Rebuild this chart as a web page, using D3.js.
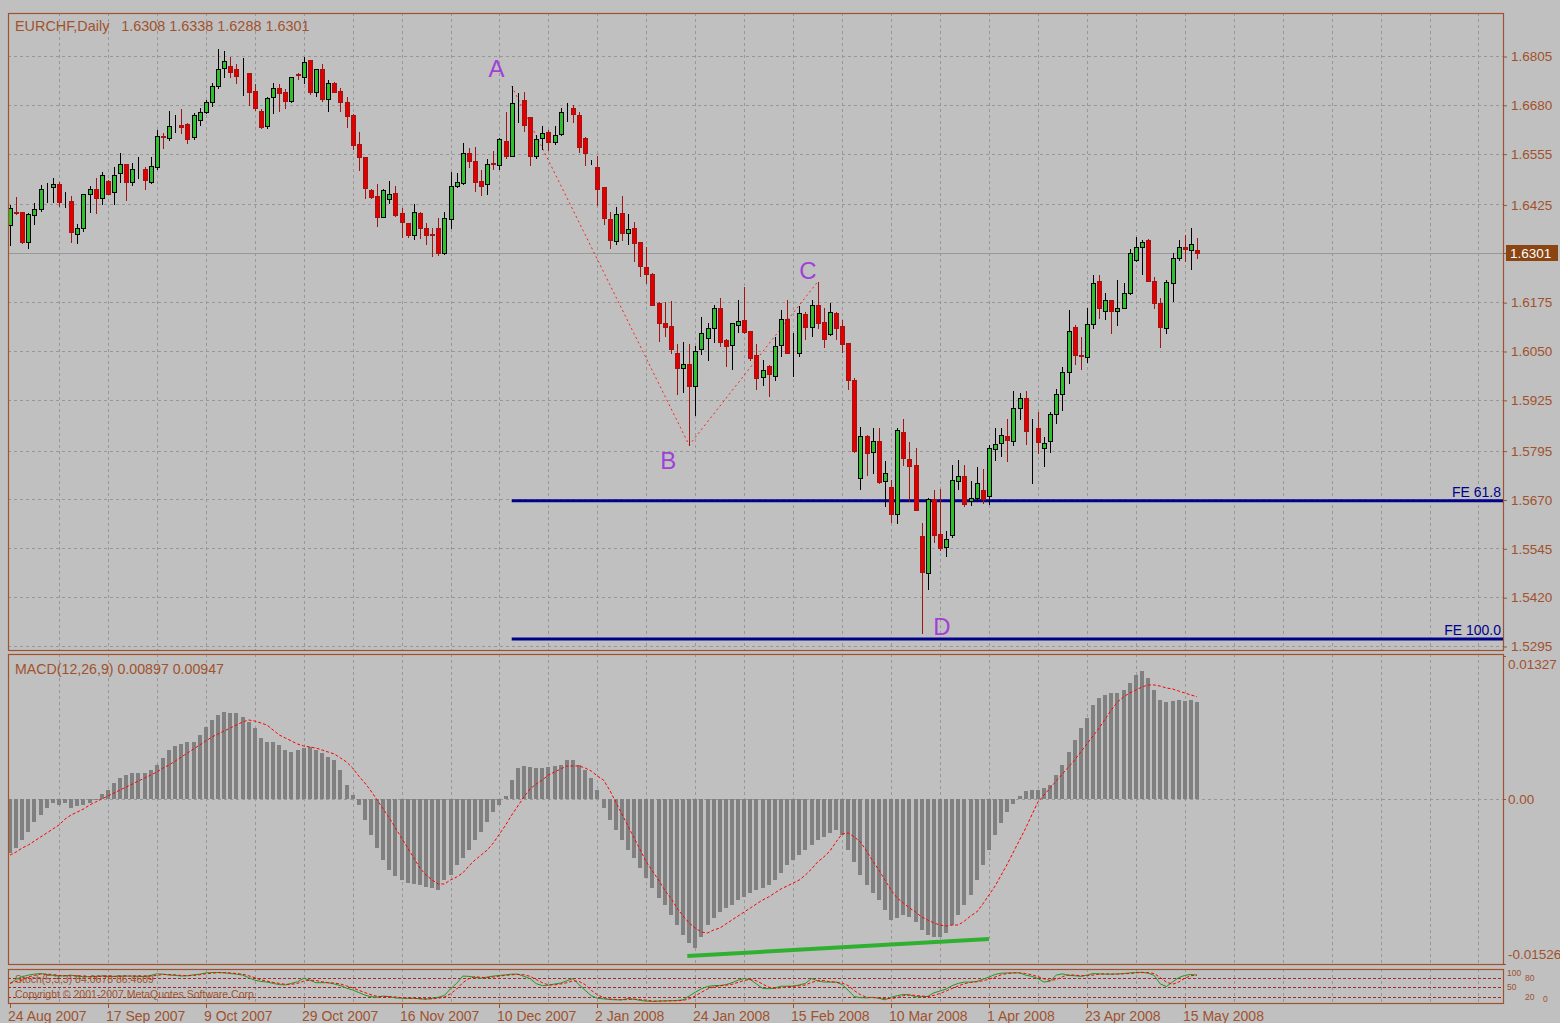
<!DOCTYPE html>
<html><head><meta charset="utf-8">
<script src="https://cdn.jsdelivr.net/npm/d3@7"></script>
<style>
html,body{margin:0;padding:0;background:#c0c0c0;}
svg{display:block;font-family:"Liberation Sans",Arial,sans-serif;}
</style></head><body>
<svg id="chart" width="1560" height="1023"></svg>
<script>
// ---------------- DATA ----------------
const symbolTitle = "EURCHF,Daily";
const lastOHLC = [1.6308, 1.6338, 1.6288, 1.6301];
const opens = [
1.6373,1.6407,1.6407,1.6328,1.6398,1.6413,1.6460,1.6469,1.6477,1.6431,
1.6435,1.6349,1.6366,1.6452,1.6465,1.6441,1.6485,1.6458,1.6505,1.6528,
1.6483,1.6515,1.6517,1.6483,1.6522,1.6601,1.6594,1.6624,1.6629,1.6631,
1.6597,1.6641,1.6661,1.6686,1.6727,1.6774,1.6779,1.6771,1.6758,1.6761,
1.6716,1.6665,1.6627,1.6699,1.6724,1.6712,1.6690,1.6758,1.6750,1.6795,
1.6714,1.6771,1.6695,1.6737,1.6716,1.6686,1.6654,1.6579,1.6547,1.6462,
1.6447,1.6394,1.6438,1.6454,1.6404,1.6377,1.6347,1.6404,1.6364,1.6350,
1.6364,1.6302,1.6387,1.6473,1.6479,1.6556,1.6536,1.6486,1.6477,1.6532,
1.6526,1.6587,1.6550,1.6691,1.6692,1.6650,1.6549,1.6594,1.6611,1.6586,
1.6605,1.6673,1.6673,1.6654,1.6596,1.6534,1.6520,1.6470,1.6388,1.6331,
1.6404,1.6351,1.6364,1.6328,1.6266,1.6247,1.6172,1.6121,1.6114,1.6046,
1.6007,1.6018,1.5960,1.6054,1.6082,1.6109,1.6161,1.6078,1.6065,1.6116,
1.6129,1.6102,1.6039,1.5984,1.6011,1.5986,1.6065,1.6133,1.6044,1.6046,
1.6144,1.6112,1.6169,1.6125,1.6093,1.6146,1.6114,1.6071,1.5977,1.5724,
1.5833,1.5792,1.5820,1.5717,1.5702,1.5632,1.5843,1.5773,1.5758,1.5577,
1.5482,1.5670,1.5581,1.5549,1.5579,1.5717,1.5730,1.5666,1.5674,1.5694,
1.5679,1.5799,1.5815,1.5832,1.5819,1.5905,1.5929,1.5854,1.5854,1.5802,
1.5819,1.5890,1.5940,1.5995,1.6112,1.6039,1.6035,1.6120,1.6230,1.6152,
1.6180,1.6152,1.6161,1.6199,1.6284,1.6317,1.6334,1.6230,1.6172,1.6108,
1.6223,1.6289,1.6317,1.6308,1.6308];
const highs = [
1.6424,1.6443,1.6407,1.6404,1.6430,1.6475,1.6481,1.6494,1.6483,1.6458,
1.6447,1.6374,1.6453,1.6473,1.6494,1.6509,1.6488,1.6522,1.6556,1.6528,
1.6530,1.6547,1.6522,1.6546,1.6616,1.6607,1.6663,1.6654,1.6669,1.6633,
1.6658,1.6671,1.6692,1.6735,1.6822,1.6818,1.6803,1.6784,1.6799,1.6761,
1.6733,1.6669,1.6701,1.6737,1.6733,1.6720,1.6752,1.6762,1.6802,1.6795,
1.6773,1.6784,1.6744,1.6739,1.6724,1.6701,1.6656,1.6610,1.6547,1.6465,
1.6477,1.6465,1.6486,1.6473,1.6415,1.6378,1.6426,1.6407,1.6377,1.6364,
1.6391,1.6407,1.6507,1.6505,1.6583,1.6569,1.6571,1.6513,1.6541,1.6563,
1.6594,1.6662,1.6728,1.6711,1.6712,1.6650,1.6603,1.6626,1.6615,1.6626,
1.6673,1.6684,1.6679,1.6661,1.6598,1.6540,1.6549,1.6470,1.6406,1.6419,
1.6446,1.6400,1.6381,1.6330,1.6317,1.6249,1.6176,1.6176,1.6178,1.6069,
1.6074,1.6069,1.6063,1.6138,1.6122,1.6169,1.6185,1.6080,1.6122,1.6180,
1.6213,1.6102,1.6068,1.6027,1.6014,1.6086,1.6156,1.6180,1.6095,1.6165,
1.6150,1.6180,1.6227,1.6161,1.6172,1.6150,1.6129,1.6071,1.5980,1.5856,
1.5836,1.5852,1.5852,1.5769,1.5721,1.5852,1.5875,1.5818,1.5801,1.5609,
1.5673,1.5694,1.5698,1.5589,1.5758,1.5772,1.5758,1.5718,1.5754,1.5749,
1.5809,1.5852,1.5852,1.5875,1.5948,1.5943,1.5948,1.5875,1.5894,1.5829,
1.5894,1.5952,1.6010,1.6156,1.6116,1.6086,1.6161,1.6244,1.6244,1.6199,
1.6180,1.6231,1.6223,1.6312,1.6341,1.6334,1.6336,1.6240,1.6185,1.6231,
1.6300,1.6334,1.6347,1.6364,1.6338];
const lows = [
1.6321,1.6401,1.6327,1.6313,1.6375,1.6409,1.6432,1.6432,1.6422,1.6418,
1.6330,1.6327,1.6358,1.6405,1.6402,1.6426,1.6452,1.6425,1.6483,1.6436,
1.6475,1.6494,1.6465,1.6481,1.6517,1.6569,1.6590,1.6611,1.6609,1.6583,
1.6593,1.6628,1.6658,1.6678,1.6722,1.6752,1.6750,1.6735,1.6705,1.6680,
1.6667,1.6622,1.6622,1.6660,1.6663,1.6671,1.6686,1.6746,1.6737,1.6709,
1.6703,1.6690,1.6664,1.6712,1.6663,1.6624,1.6566,1.6512,1.6441,1.6441,
1.6371,1.6392,1.6428,1.6396,1.6343,1.6343,1.6336,1.6338,1.6324,1.6293,
1.6296,1.6298,1.6366,1.6471,1.6477,1.6522,1.6460,1.6449,1.6452,1.6517,
1.6515,1.6543,1.6549,1.6635,1.6613,1.6526,1.6545,1.6568,1.6564,1.6580,
1.6603,1.6639,1.6635,1.6560,1.6526,1.6528,1.6423,1.6374,1.6314,1.6324,
1.6334,1.6324,1.6280,1.6242,1.6223,1.6167,1.6076,1.6088,1.6046,1.5941,
1.5944,1.5809,1.5886,1.6042,1.6027,1.6074,1.6063,1.6011,1.6003,1.6099,
1.6095,1.6028,1.5954,1.5963,1.5935,1.5975,1.6037,1.6044,1.5986,1.6037,
1.6080,1.6088,1.6110,1.6059,1.6091,1.6080,1.6048,1.5954,1.5792,1.5696,
1.5732,1.5739,1.5713,1.5653,1.5613,1.5610,1.5758,1.5667,1.5643,1.5329,
1.5442,1.5562,1.5540,1.5525,1.5574,1.5698,1.5654,1.5657,1.5668,1.5660,
1.5658,1.5772,1.5781,1.5769,1.5809,1.5875,1.5811,1.5713,1.5789,1.5755,
1.5792,1.5866,1.5900,1.5967,1.6016,1.6005,1.6022,1.6109,1.6135,1.6132,
1.6095,1.6116,1.6159,1.6197,1.6281,1.6248,1.6230,1.6161,1.6061,1.6097,
1.6179,1.6284,1.6281,1.6260,1.6288];
const closes = [
1.6415,1.6402,1.6330,1.6401,1.6413,1.6465,1.6460,1.6477,1.6432,1.6431,
1.6355,1.6366,1.6451,1.6465,1.6441,1.6500,1.6453,1.6500,1.6528,1.6483,
1.6516,1.6515,1.6488,1.6524,1.6601,1.6597,1.6626,1.6624,1.6624,1.6592,
1.6654,1.6661,1.6688,1.6727,1.6773,1.6791,1.6765,1.6755,1.6758,1.6714,
1.6671,1.6624,1.6697,1.6724,1.6711,1.6691,1.6750,1.6756,1.6789,1.6714,
1.6771,1.6694,1.6737,1.6714,1.6688,1.6651,1.6577,1.6547,1.6468,1.6445,
1.6394,1.6462,1.6451,1.6398,1.6381,1.6347,1.6407,1.6364,1.6347,1.6347,
1.6302,1.6391,1.6473,1.6482,1.6558,1.6535,1.6483,1.6472,1.6528,1.6528,
1.6592,1.6549,1.6684,1.6691,1.6628,1.6549,1.6592,1.6607,1.6586,1.6603,
1.6661,1.6673,1.6656,1.6573,1.6557,1.6534,1.6464,1.6391,1.6334,1.6400,
1.6353,1.6362,1.6327,1.6268,1.6246,1.6169,1.6121,1.6112,1.6054,1.6007,
1.6018,1.5960,1.6050,1.6097,1.6109,1.6161,1.6074,1.6063,1.6121,1.6127,
1.6099,1.6031,1.5982,1.6001,1.5991,1.6062,1.6133,1.6045,1.6044,1.6146,
1.6112,1.6167,1.6121,1.6080,1.6149,1.6108,1.6069,1.5975,1.5795,1.5832,
1.5790,1.5819,1.5715,1.5738,1.5632,1.5847,1.5775,1.5756,1.5643,1.5485,
1.5671,1.5580,1.5547,1.5570,1.5721,1.5730,1.5658,1.5674,1.5713,1.5672,
1.5801,1.5812,1.5835,1.5822,1.5905,1.5929,1.5846,1.5854,1.5818,1.5815,
1.5890,1.5941,1.5995,1.6101,1.6039,1.6037,1.6120,1.6225,1.6161,1.6180,
1.6152,1.6161,1.6199,1.6301,1.6317,1.6328,1.6230,1.6174,1.6112,1.6227,
1.6289,1.6315,1.6312,1.6324,1.6301];

const macdHist = [
-0.00500,-0.00454,-0.00380,-0.00306,-0.00213,-0.00148,-0.00083,-0.00037,-0.00056,-0.00037,
-0.00083,-0.00065,-0.00056,-0.00037,-0.00009,0.00046,0.00083,0.00148,0.00194,0.00222,
0.00241,0.00241,0.00241,0.00269,0.00315,0.00380,0.00454,0.00491,0.00509,0.00528,
0.00528,0.00593,0.00667,0.00732,0.00778,0.00806,0.00796,0.00796,0.00759,0.00713,
0.00657,0.00565,0.00528,0.00528,0.00500,0.00454,0.00435,0.00454,0.00472,0.00482,
0.00454,0.00426,0.00389,0.00361,0.00269,0.00130,0.00037,-0.00056,-0.00194,-0.00333,
-0.00454,-0.00565,-0.00657,-0.00713,-0.00750,-0.00778,-0.00787,-0.00796,-0.00815,-0.00824,
-0.00843,-0.00750,-0.00704,-0.00611,-0.00546,-0.00472,-0.00380,-0.00306,-0.00213,-0.00120,
-0.00056,0.00028,0.00176,0.00287,0.00306,0.00296,0.00287,0.00287,0.00296,0.00306,
0.00315,0.00361,0.00361,0.00315,0.00269,0.00194,0.00083,-0.00083,-0.00194,-0.00287,
-0.00380,-0.00472,-0.00546,-0.00639,-0.00732,-0.00824,-0.00917,-0.00982,-0.01074,-0.01167,
-0.01259,-0.01333,-0.01380,-0.01278,-0.01167,-0.01102,-0.01046,-0.01009,-0.00982,-0.00935,
-0.00907,-0.00870,-0.00843,-0.00824,-0.00796,-0.00750,-0.00685,-0.00611,-0.00565,-0.00519,
-0.00472,-0.00426,-0.00380,-0.00352,-0.00315,-0.00287,-0.00333,-0.00472,-0.00583,-0.00704,
-0.00796,-0.00870,-0.00935,-0.01028,-0.01120,-0.01102,-0.01074,-0.01093,-0.01139,-0.01213,
-0.01259,-0.01278,-0.01278,-0.01241,-0.01167,-0.01074,-0.00982,-0.00889,-0.00750,-0.00611,
-0.00472,-0.00333,-0.00222,-0.00120,-0.00046,0.00028,0.00074,0.00083,0.00083,0.00102,
0.00130,0.00222,0.00315,0.00435,0.00546,0.00657,0.00750,0.00870,0.00935,0.00963,
0.00982,0.00982,0.01009,0.01074,0.01148,0.01185,0.01120,0.01009,0.00917,0.00898,
0.00907,0.00917,0.00907,0.00917,0.00897];
const macdSignal = [
-0.00519,-0.00491,-0.00454,-0.00426,-0.00389,-0.00352,-0.00315,-0.00278,-0.00241,-0.00185,
-0.00148,-0.00120,-0.00093,-0.00056,-0.00028,0.00000,0.00028,0.00056,0.00083,0.00111,
0.00139,0.00167,0.00194,0.00222,0.00250,0.00287,0.00315,0.00352,0.00389,0.00426,
0.00463,0.00500,0.00537,0.00574,0.00602,0.00630,0.00657,0.00685,0.00713,0.00732,
0.00722,0.00704,0.00685,0.00639,0.00593,0.00565,0.00537,0.00509,0.00491,0.00482,
0.00472,0.00454,0.00435,0.00417,0.00380,0.00343,0.00287,0.00213,0.00148,0.00074,
-0.00009,-0.00093,-0.00176,-0.00269,-0.00361,-0.00454,-0.00546,-0.00639,-0.00704,-0.00750,
-0.00787,-0.00787,-0.00750,-0.00722,-0.00685,-0.00620,-0.00565,-0.00519,-0.00472,-0.00407,
-0.00324,-0.00241,-0.00148,-0.00065,0.00019,0.00093,0.00139,0.00176,0.00222,0.00250,
0.00278,0.00306,0.00306,0.00306,0.00287,0.00259,0.00213,0.00176,0.00083,-0.00028,
-0.00139,-0.00250,-0.00361,-0.00472,-0.00583,-0.00667,-0.00750,-0.00843,-0.00917,-0.01009,
-0.01083,-0.01148,-0.01195,-0.01232,-0.01241,-0.01213,-0.01195,-0.01158,-0.01120,-0.01083,
-0.01046,-0.01009,-0.00972,-0.00935,-0.00907,-0.00870,-0.00833,-0.00806,-0.00778,-0.00750,
-0.00704,-0.00648,-0.00583,-0.00537,-0.00482,-0.00398,-0.00324,-0.00315,-0.00352,-0.00398,
-0.00482,-0.00574,-0.00657,-0.00750,-0.00843,-0.00917,-0.00963,-0.01009,-0.01046,-0.01093,
-0.01120,-0.01148,-0.01167,-0.01176,-0.01167,-0.01167,-0.01130,-0.01083,-0.01046,-0.00972,
-0.00889,-0.00806,-0.00704,-0.00602,-0.00491,-0.00380,-0.00269,-0.00148,-0.00028,0.00037,
0.00102,0.00167,0.00232,0.00296,0.00361,0.00435,0.00509,0.00583,0.00657,0.00741,
0.00824,0.00898,0.00945,0.00982,0.01009,0.01037,0.01056,0.01056,0.01046,0.01028,
0.01019,0.01000,0.00982,0.00963,0.00947];
const macdLast = ["0.00897", "0.00947"];
const macdAxis = [0.01327, 0.00, -0.01526];

const stochK = [
62,75,83,88,91,93,90,87,85,86, 88,84,83,83,84,85,83,84,85,85,
85,84,83,87,92,91,88,87,85,86, 89,91,95,96,96,95,93,91,88,80,
72,68,66,62,58,57,62,67,78,72, 64,64,64,60,55,47,41,33,25,20,
18,22,20,16,15,15,15,13,12,15, 18,24,45,62,85,84,81,78,82,85,
87,89,91,91,84,77,61,55,56,60, 63,70,77,58,40,23,15,13,11,10,
10,14,12,8,6,5,6,7,7,8, 10,22,34,45,52,55,55,58,64,72,
77,74,60,46,45,47,53,53,53,57, 62,77,70,66,66,66,58,40,20,17,
16,18,15,10,18,23,27,26,20,20, 21,32,38,44,55,62,66,66,68,75,
82,90,94,95,95,95,88,84,77,66, 69,88,92,87,86,84,88,93,92,91,
91,92,93,95,96,97,94,87,60,52, 66,80,87,90,88];
const stochD = [
62,68,73,82,87,91,91,90,87,86, 86,86,85,83,83,84,84,84,84,85,
85,85,84,85,87,90,90,89,87,86, 87,89,92,94,96,96,95,93,91,86,
80,73,69,65,62,59,59,62,69,72, 71,67,64,63,60,54,48,40,33,26,
21,20,20,19,17,15,15,14,13,13, 15,19,29,44,64,77,83,81,80,82,
85,87,89,90,89,84,74,64,57,57, 60,64,70,68,58,40,26,17,13,11,
10,11,12,11,9,6,6,6,7,7, 8,13,22,34,44,51,54,56,59,65,
71,74,70,60,50,46,48,51,53,54, 57,65,70,71,67,66,63,55,39,26,
18,17,16,14,14,17,23,25,24,22, 20,24,30,38,46,54,61,65,67,70,
75,82,89,93,95,95,93,89,83,76, 71,74,83,89,88,86,86,88,91,92,
91,91,92,93,95,96,96,93,80,66, 59,66,78,86,88];
const stochLevels = [80, 50, 20];
const stochAxisLabels = [100, 80, 50, 20, 0];
const stochTitle = "Stoch(5,3,3) 84.0678 86.4609";
const copyrightText = "Copyright \u00A9 2001-2007 MetaQuotes Software Corp.";

const dateTickIndex = [0,16,32,48,64,80,96,112,128,144,160,176,192];
const dateTickLabels = ["24 Aug 2007","17 Sep 2007","9 Oct 2007","29 Oct 2007","16 Nov 2007","10 Dec 2007",
  "2 Jan 2008","24 Jan 2008","15 Feb 2008","10 Mar 2008","1 Apr 2008","23 Apr 2008","15 May 2008"];
const priceTicks = [1.6805,1.6680,1.6555,1.6425,1.6175,1.6050,1.5925,1.5795,1.5670,1.5545,1.5420,1.5295];
const lastPrice = 1.6301;

const waveNames = ["A","B","C","D"];
const waveIdx = [79.5, 107.6, 130.4, 152.3];
const wavePrice = [1.6774, 1.5771, 1.6257, 1.5344];
const zigzagIdx = [82, 111, 132];
const zigzagPrice = [1.6728, 1.5809, 1.6227];
const feNames = ["FE 61.8", "FE 100.0"];
const feLevels = [1.5667, 1.5313];
const feStartIdx = 82;
const divIdx = [110.7, 160];
const divValue = [-0.01454, -0.01296];

// ---------------- LAYOUT ----------------
const W = 1560, H = 1023;
const L = 8, R = 1503;
const main = {t: 13, b: 650}, mac = {t: 654, b: 964}, sto = {t: 969, b: 1003};
const axisCol = "#a0522d", gridCol = "#979797", bg = "#c0c0c0";
const N = opens.length;

const x = d3.scaleLinear().domain([0, 194]).range([10, 1197]);
const yP = d3.scaleLinear().domain([1.5295, 1.6805]).range([646, 56]);
const yM = d3.scaleLinear().domain([-0.01526, 0.01327]).range([963.8, 655.7]);
const yS = d3.scaleLinear().domain([0, 100]).range([1003, 971.3]);
const px = i => Math.round(x(i));
const h5 = v => Math.round(v) + 0.5;

const svg = d3.select("#chart");
svg.append("rect").attr("width", W).attr("height", H).attr("fill", bg);

const defs = svg.append("defs");
[["clipMain", main], ["clipMac", mac], ["clipSto", sto]].forEach(([id, p]) => {
  defs.append("clipPath").attr("id", id).append("rect")
    .attr("x", L + 1).attr("y", p.t + 1).attr("width", R - L - 1).attr("height", p.b - p.t - 1);
});

// vertical grid in all panels
const gridIdx = d3.range(8, 245, 8);
[main, mac, sto].forEach(p => {
  svg.append("g").selectAll("line").data(gridIdx.filter(i => x(i) < R - 2)).join("line")
    .attr("x1", i => px(i) + 0.5).attr("x2", i => px(i) + 0.5)
    .attr("y1", p.t).attr("y2", p.b)
    .attr("stroke", gridCol).attr("stroke-dasharray", "3,3");
});
// horizontal grid main
svg.append("g").selectAll("line").data(priceTicks).join("line")
  .attr("x1", L).attr("x2", R).attr("y1", d => h5(yP(d))).attr("y2", d => h5(yP(d)))
  .attr("stroke", gridCol).attr("stroke-dasharray", "3,3");
// MACD zero
svg.append("line").attr("x1", L).attr("x2", R).attr("y1", h5(yM(0))).attr("y2", h5(yM(0)))
  .attr("stroke", gridCol).attr("stroke-dasharray", "3,3");
// current price line
svg.append("line").attr("x1", L).attr("x2", R).attr("y1", h5(yP(lastPrice))).attr("y2", h5(yP(lastPrice)))
  .attr("stroke", "#999999");

// ---------------- MAIN PANEL ----------------
const gMain = svg.append("g").attr("clip-path", "url(#clipMain)");
gMain.selectAll("line.fe").data(feLevels).join("line").attr("class", "fe")
  .attr("x1", x(feStartIdx)).attr("x2", R).attr("y1", d => yP(d)).attr("y2", d => yP(d))
  .attr("stroke", "#00008b").attr("stroke-width", 3);
const zz = zigzagIdx.map((d, i) => [d, zigzagPrice[i]]);
gMain.append("path").datum(zz)
  .attr("d", d3.line().x(d => x(d[0])).y(d => yP(d[1])))
  .attr("fill", "none").attr("stroke", "#ff2020").attr("stroke-width", 1).attr("stroke-dasharray", "2,3");

const candles = d3.range(N).map(i => ({i, o: opens[i], h: highs[i], l: lows[i], c: closes[i]}));
const cg = gMain.append("g").selectAll("g").data(candles).join("g");
cg.append("line")
  .attr("x1", d => px(d.i) + 0.5).attr("x2", d => px(d.i) + 0.5)
  .attr("y1", d => Math.round(yP(d.h))).attr("y2", d => Math.round(yP(d.l)) + 1)
  .attr("stroke", d => d.c >= d.o ? "#000000" : "#a01414");
cg.append("rect")
  .attr("x", d => px(d.i) - 1.5).attr("width", 4)
  .attr("y", d => h5(yP(Math.max(d.o, d.c))))
  .attr("height", d => Math.max(0, Math.round(yP(Math.min(d.o, d.c))) - Math.round(yP(Math.max(d.o, d.c)))))
  .attr("fill", d => d.c > d.o ? "#2fbf2f" : (d.c < d.o ? "#e00000" : "#000000"))
  .attr("stroke", d => d.c >= d.o ? "#000000" : "#a01414").attr("stroke-width", 1);

svg.selectAll("text.fe").data(feLevels).join("text").attr("class", "fe")
  .attr("x", R - 2).attr("y", d => yP(d) - 4)
  .attr("text-anchor", "end").attr("font-size", 14).attr("fill", "#00008b")
  .text((d, i) => feNames[i]);
svg.selectAll("text.wave").data(waveNames).join("text").attr("class", "wave")
  .attr("x", (d, i) => x(waveIdx[i])).attr("y", (d, i) => yP(wavePrice[i]))
  .attr("text-anchor", "middle").attr("dominant-baseline", "central")
  .attr("font-size", 24).attr("fill", "#a040d8").text(d => d);

svg.append("text").attr("x", 15).attr("y", 31).attr("font-size", 14.4).attr("fill", axisCol)
  .attr("xml:space", "preserve")
  .text(symbolTitle + "   " + lastOHLC.map(d => d.toFixed(4)).join(" "));

const pAxis = d3.axisRight(yP).tickValues(priceTicks).tickFormat(d3.format(".4f")).tickSize(4).tickPadding(4);
const pa = svg.append("g").attr("transform", `translate(${R},0.5)`).call(pAxis);
pa.select(".domain").remove();
pa.selectAll("line").attr("stroke", axisCol);
pa.selectAll("text").attr("fill", axisCol).attr("font-size", 13.5).attr("font-family", "Liberation Sans, Arial, sans-serif");
const ly = Math.round(yP(lastPrice));
svg.append("line").attr("x1", R).attr("x2", R + 4).attr("y1", ly + 0.5).attr("y2", ly + 0.5).attr("stroke", axisCol);
svg.append("rect").attr("x", R + 3).attr("y", ly - 8).attr("width", 52).attr("height", 16).attr("fill", "#8b4513");
svg.append("text").attr("x", R + 7).attr("y", ly).attr("dominant-baseline", "central")
  .attr("font-size", 13.5).attr("fill", "#ffffff").text(lastPrice.toFixed(4));

// ---------------- MACD PANEL ----------------
const gMac = svg.append("g").attr("clip-path", "url(#clipMac)");
const z0 = Math.round(yM(0));
gMac.selectAll("rect").data(macdHist).join("rect")
  .attr("x", (d, i) => px(i) - 2).attr("width", 4)
  .attr("y", d => d >= 0 ? Math.round(yM(d)) : z0)
  .attr("height", d => Math.abs(Math.round(yM(d)) - z0))
  .attr("fill", "#808080");
gMac.append("path").datum(macdSignal)
  .attr("d", d3.line().x((d, i) => x(i)).y(d => yM(d)))
  .attr("fill", "none").attr("stroke", "#ff0000").attr("stroke-width", 1).attr("stroke-dasharray", "3,2");
const dv = divIdx.map((d, i) => [d, divValue[i]]);
gMac.append("path").datum(dv)
  .attr("d", d3.line().x(d => x(d[0])).y(d => yM(d[1])))
  .attr("stroke", "#30b030").attr("stroke-width", 4).attr("fill", "none");
svg.append("text").attr("x", 15).attr("y", 674).attr("font-size", 14.2).attr("fill", axisCol)
  .text("MACD(12,26,9) " + macdLast.join(" "));
svg.selectAll("text.macax").data(macdAxis).join("text").attr("class", "macax")
  .attr("x", R + 5)
  .attr("y", (d, i) => i === 0 ? yM(d) + 9 : (i === 2 ? yM(d) - 9 : yM(d)))
  .attr("dominant-baseline", "central").attr("font-size", 13.5).attr("fill", axisCol)
  .text(d => d === 0 ? "0.00" : d.toFixed(5));
svg.selectAll("line.macax").data(macdAxis).join("line").attr("class", "macax")
  .attr("x1", R).attr("x2", R + 3)
  .attr("y1", d => h5(yM(d))).attr("y2", d => h5(yM(d))).attr("stroke", axisCol);

// ---------------- STOCH PANEL ----------------
const gSto = svg.append("g").attr("clip-path", "url(#clipSto)");
gSto.selectAll("line.lvl").data(stochLevels).join("line").attr("class", "lvl")
  .attr("x1", L).attr("x2", R).attr("y1", d => h5(yS(d))).attr("y2", d => h5(yS(d)))
  .attr("stroke", "#a02828").attr("stroke-dasharray", "3,2");
gSto.append("text").attr("x", 15).attr("y", 979).attr("dominant-baseline", "central")
  .attr("font-size", 10.5).attr("fill", axisCol).text(stochTitle);
gSto.append("text").attr("x", 15).attr("y", 994).attr("dominant-baseline", "central")
  .attr("font-size", 10.5).attr("fill", axisCol).text(copyrightText);
gSto.append("path").datum(stochK)
  .attr("d", d3.line().x((d, i) => x(i)).y(d => yS(d)))
  .attr("fill", "none").attr("stroke", "#209a20").attr("stroke-width", 1);
gSto.append("path").datum(stochD)
  .attr("d", d3.line().x((d, i) => x(i)).y(d => yS(d)))
  .attr("fill", "none").attr("stroke", "#ff0000").attr("stroke-width", 1).attr("stroke-dasharray", "3,2");
// staggered axis labels so they stay readable in the thin panel
const stCol = {100: 4, 80: 22, 50: 4, 20: 22, 0: 40};
const stY = {100: 973, 80: 977.5, 50: 987, 20: 996.5, 0: 999};
svg.selectAll("text.stax").data(stochAxisLabels).join("text").attr("class", "stax")
  .attr("x", d => R + stCol[d]).attr("y", d => stY[d])
  .attr("dominant-baseline", "central").attr("font-size", 8.5).attr("fill", axisCol).text(d => d);

// ---------------- BORDERS ----------------
[main, mac, sto].forEach(p => {
  svg.append("rect").attr("x", L + 0.5).attr("y", p.t + 0.5).attr("width", R - L).attr("height", p.b - p.t)
    .attr("fill", "none").attr("stroke", axisCol).attr("stroke-width", 1.2);
});

// ---------------- DATE AXIS ----------------
const dAxis = svg.append("g");
dAxis.selectAll("line").data(dateTickIndex).join("line")
  .attr("x1", d => px(d) + 0.5).attr("x2", d => px(d) + 0.5)
  .attr("y1", sto.b).attr("y2", sto.b + 5).attr("stroke", axisCol);
dAxis.selectAll("text").data(dateTickIndex).join("text")
  .attr("x", d => px(d) - 2).attr("y", 1016).attr("dominant-baseline", "central")
  .attr("font-size", 14).attr("fill", axisCol).text((d, i) => dateTickLabels[i]);
</script>
</body></html>
